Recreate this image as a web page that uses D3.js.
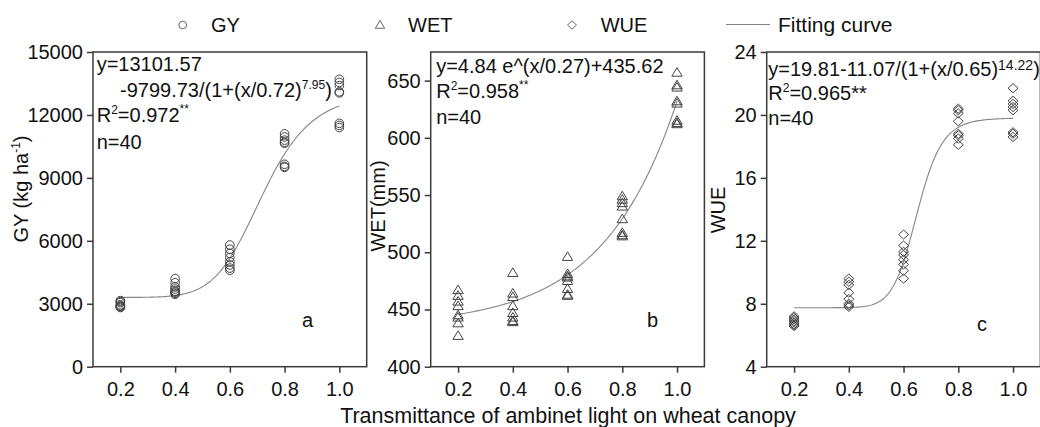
<!DOCTYPE html>
<html>
<head>
<meta charset="utf-8">
<script src="https://cdn.jsdelivr.net/npm/d3@7"></script>
<style>
    body { margin: 0; background: #fff; }
    text { font-family: "Liberation Sans", Arial, sans-serif; fill: #111; }
    .axis text { font-size: 20px; }
    .axis line { stroke: #3a3a3a; stroke-width: 1.5; }
</style>
</head>
<body>
<script>
//light levels on the x axis
var xLevels = [0.2, 0.4, 0.6, 0.8, 1.0];
var xTicks = [0.2, 0.4, 0.6, 0.8, 1.0];

//grain yield, 8 plots per light level
var gyValues = [
    [3150, 3100, 3050, 2950, 2900, 2880, 2850, 2820],
    [4200, 4000, 3800, 3700, 3600, 3550, 3500, 3450],
    [5800, 5600, 5400, 5200, 5000, 4850, 4700, 4600],
    [11100, 10950, 10800, 10700, 10650, 9650, 9550, 9500],
    [13700, 13550, 13400, 13100, 13050, 11600, 11500, 11400]
];
//water evapotranspiration (mm)
var wetValues = [
    [467, 462, 457, 453, 445, 443, 438, 427],
    [482, 464, 461, 453, 447, 443, 440, 439],
    [496, 481, 479, 478, 475, 468, 463, 462],
    [549, 546, 543, 540, 529, 517, 515, 514],
    [657, 646, 644, 632, 630, 615, 613, 612]
];
//water use efficiency
var wueValues = [
    [7.2, 7.1, 7.0, 6.9, 6.8, 6.7, 6.6, 6.6],
    [9.6, 9.4, 9.2, 8.7, 8.3, 8.0, 7.9, 7.8],
    [12.4, 11.7, 11.3, 11.1, 10.8, 10.5, 10.1, 9.6],
    [20.4, 20.3, 20.1, 19.6, 18.8, 18.7, 18.5, 18.1],
    [21.7, 20.9, 20.7, 20.5, 20.3, 18.9, 18.8, 18.6]
];

//y axis ticks and ranges
var gyTicks = [0, 3000, 6000, 9000, 12000, 15000];
var wetTicks = [400, 450, 500, 550, 600, 650];
var wueTicks = [4, 8, 12, 16, 20, 24];
var gyDomain = [0, 15000];
var wetDomain = [400, 675];
var wueDomain = [4, 24];

//fitting curve coefficients
var gyFit = [13101.57, 9799.73, 0.72, 7.95];   //a - b/(1+(x/c)^d)
var wetFit = [4.84, 0.27, 435.62];             //a*e^(x/b)+c
var wueFit = [19.81, 12.06, 0.65, 14.22];      //drawn line sits lower than the printed 11.07

window.onload = function () {
    var w = 1040, h = 427;
    var top = 52, bottom = 366.7, pw = 273.7;

    var svg = d3.select("body")
        .append("svg")
        .attr("width", w)
        .attr("height", h);

    //marker shapes
    var circle = "M4.3,0A4.3,4.3 0 1,1 -4.3,0A4.3,4.3 0 1,1 4.3,0Z";
    var triangle = "M0,-5L5.2,3.6L-5.2,3.6Z";
    var diamond = "M0,-4.6L5,0L0,4.6L-5,0Z";

    var logistic = function (p) {
        return function (x) { return p[0] - p[1] / (1 + Math.pow(x / p[2], p[3])); };
    };
    var expo = function (p) {
        return function (x) { return p[0] * Math.exp(x / p[1]) + p[2]; };
    };

    var panels = [
        {
            left: 93, values: gyValues, domain: gyDomain, ticks: gyTicks, marker: circle,
            fit: logistic(gyFit), letter: "a", letterX: 302, letterY: 326.5,
            lines: [
                { x: 3.7, y: 70.5, seg: [["y=13101.57"]] },
                { x: 27, y: 96.5, seg: [["-9799.73/(1+(x/0.72)"], ["7.95", 12, -8], [")"]] },
                { x: 3.7, y: 122, seg: [["R"], ["2", 12, -8], ["=0.972"], ["**", 12, -9]] },
                { x: 3.7, y: 148.5, seg: [["n=40"]] }
            ]
        },
        {
            left: 430.7, values: wetValues, domain: wetDomain, ticks: wetTicks, marker: triangle,
            fit: expo(wetFit), letter: "b", letterX: 647, letterY: 326.5,
            lines: [
                { x: 5.5, y: 72.5, seg: [["y=4.84 e^(x/0.27)+435.62"]] },
                { x: 5.5, y: 98.3, seg: [["R"], ["2", 12, -8], ["=0.958"], ["**", 12, -9]] },
                { x: 5.5, y: 124, seg: [["n=40"]] }
            ]
        },
        {
            left: 766.7, values: wueValues, domain: wueDomain, ticks: wueTicks, marker: diamond,
            fit: logistic(wueFit), letter: "c", letterX: 977, letterY: 330.5,
            lines: [
                { x: 1.6, y: 75.5, seg: [["y=19.81-11.07/(1+(x/0.65)"], ["14.22", 14, -6], [")"]] },
                { x: 1.6, y: 100, seg: [["R"], ["2", 12, -8], ["=0.965**"]] },
                { x: 1.6, y: 125, seg: [["n=40"]] }
            ]
        }
    ];

    panels.forEach(function (p) {
        var x = d3.scaleLinear().domain([0.1, 1.1]).range([p.left, p.left + pw]);
        var y = d3.scaleLinear().domain(p.domain).range([bottom, top]);

        //frame
        svg.append("rect")
            .attr("x", p.left)
            .attr("y", top)
            .attr("width", pw)
            .attr("height", bottom - top)
            .style("fill", "none")
            .style("stroke", "#3a3a3a")
            .style("stroke-width", 1.5);

        //axes
        svg.append("g")
            .attr("class", "axis")
            .attr("transform", "translate(" + p.left + ",0)")
            .call(d3.axisLeft(y).tickValues(p.ticks).tickFormat(d3.format("d"))
                .tickSize(6).tickPadding(4).tickSizeOuter(0))
            .call(function (g) { g.select(".domain").remove(); });

        svg.append("g")
            .attr("class", "axis")
            .attr("transform", "translate(0," + bottom + ")")
            .call(d3.axisBottom(x).tickValues(xTicks).tickFormat(d3.format(".1f"))
                .tickSize(6).tickPadding(9).tickSizeOuter(0))
            .call(function (g) { g.select(".domain").remove(); });

        //fitting curve
        var curve = d3.range(0.2, 1.0001, 0.005);
        svg.append("path")
            .datum(curve)
            .attr("d", d3.line()
                .x(function (d) { return x(d); })
                .y(function (d) { return y(p.fit(d)); }))
            .style("fill", "none")
            .style("stroke", "#858585")
            .style("stroke-width", 1.1);

        //points
        var pts = [];
        xLevels.forEach(function (lv, i) {
            p.values[i].forEach(function (v) { pts.push({ x: lv, y: v }); });
        });
        svg.selectAll(null)
            .data(pts)
            .enter()
            .append("path")
            .attr("d", p.marker)
            .attr("transform", function (d) { return "translate(" + x(d.x) + "," + y(d.y) + ")"; })
            .style("fill", "none")
            .style("stroke", "#444")
            .style("stroke-width", 1);

        //equation block
        p.lines.forEach(function (ln) {
            var t = svg.append("text")
                .attr("x", p.left + ln.x)
                .attr("y", ln.y)
                .style("font-size", "20px");
            ln.seg.forEach(function (s, k) {
                var prev = k > 0 ? ln.seg[k - 1] : null;
                var shift = (s[2] || 0) - (prev && prev[2] ? prev[2] : 0);
                t.append("tspan")
                    .attr("dy", shift)
                    .style("font-size", (s[1] || 20) + "px")
                    .text(s[0]);
            });
        });

        svg.append("text")
            .attr("x", p.letterX)
            .attr("y", p.letterY)
            .style("font-size", "20px")
            .text(p.letter);
    });

    //y axis titles
    var gyTitle = svg.append("text")
        .attr("transform", "translate(28,189) rotate(-90)")
        .attr("text-anchor", "middle")
        .style("font-size", "20px");
    gyTitle.append("tspan").text("GY (kg ha");
    gyTitle.append("tspan").attr("dy", -8).style("font-size", "12px").text("-1");
    gyTitle.append("tspan").attr("dy", 8).text(")");

    svg.append("text")
        .attr("transform", "translate(385,206) rotate(-90)")
        .attr("text-anchor", "middle")
        .style("font-size", "20px")
        .text("WET(mm)");

    svg.append("text")
        .attr("transform", "translate(725,210) rotate(-90)")
        .attr("text-anchor", "middle")
        .style("font-size", "20px")
        .text("WUE");

    //x axis title
    svg.append("text")
        .attr("x", 568)
        .attr("y", 423)
        .attr("text-anchor", "middle")
        .style("font-size", "21.5px")
        .text("Transmittance of ambinet light on wheat canopy");

    //legend
    var legend = [
        { name: "GY", mx: 182.7, tx: 211, marker: circle },
        { name: "WET", mx: 380, tx: 408, marker: triangle },
        { name: "WUE", mx: 572, tx: 600.7, marker: diamond }
    ];
    legend.forEach(function (d) {
        svg.append("path")
            .attr("d", d.marker)
            .attr("transform", "translate(" + d.mx + ",25) scale(0.9)")
            .style("fill", "none")
            .style("stroke", "#555")
            .style("stroke-width", 1);
        svg.append("text")
            .attr("x", d.tx)
            .attr("y", 32)
            .style("font-size", "20px")
            .text(d.name);
    });
    svg.append("line")
        .attr("x1", 726).attr("x2", 770)
        .attr("y1", 24.5).attr("y2", 24.5)
        .style("stroke", "#858585")
        .style("stroke-width", 1.1);
    svg.append("text")
        .attr("x", 778)
        .attr("y", 32)
        .style("font-size", "21px")
        .text("Fitting curve");
};
</script>
</body>
</html>
